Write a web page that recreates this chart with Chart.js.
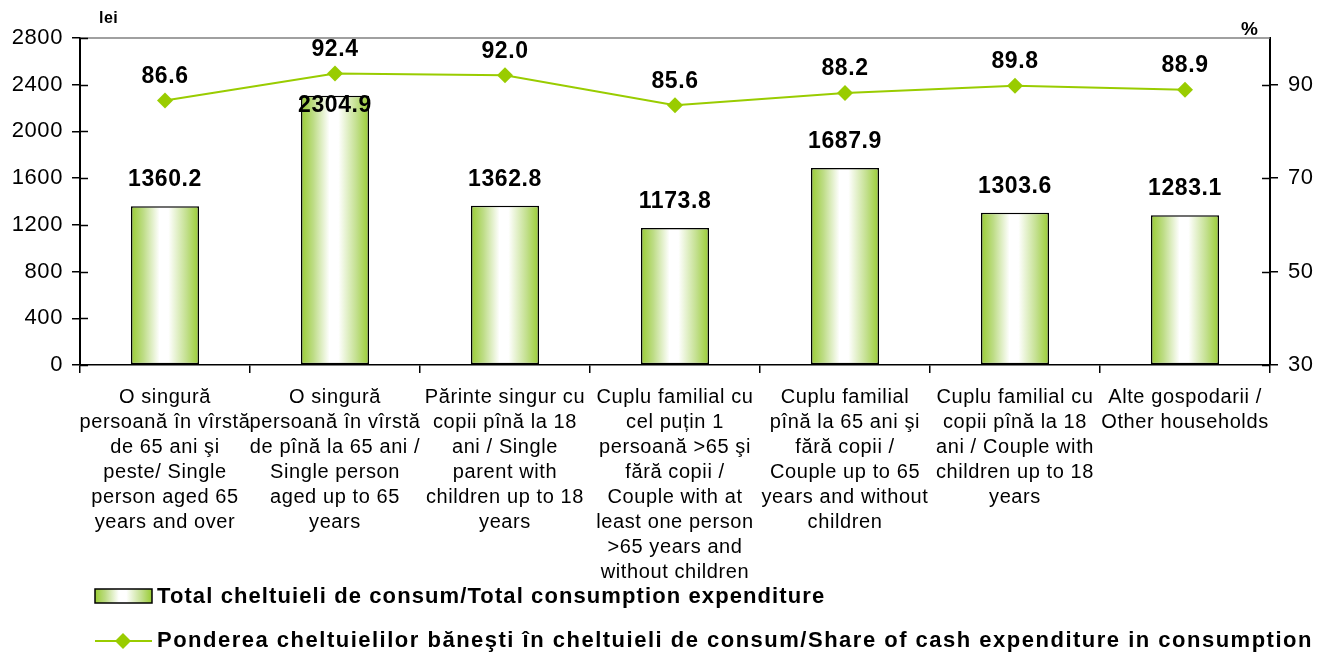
<!DOCTYPE html>
<html>
<head>
<meta charset="utf-8">
<script src="https://cdn.jsdelivr.net/npm/chart.js@4/dist/chart.umd.min.js"></script>
<style>
  html, body { margin:0; padding:0; background:#fff; }
  #wrap { width:1325px; height:655px; }
</style>
</head>
<body>
<div id="wrap"><canvas id="chart" width="1325" height="655"></canvas></div>
<script>
const categories = [
  ['O singură', 'persoană în vîrstă', 'de 65 ani şi', 'peste/ Single', 'person aged 65', 'years and over'],
  ['O singură', 'persoană în vîrstă', 'de pînă la 65 ani /', 'Single person', 'aged up to 65', 'years'],
  ['Părinte singur cu', 'copii pînă la 18', 'ani / Single', 'parent with', 'children up to 18', 'years'],
  ['Cuplu familial cu', 'cel puțin 1', 'persoană >65 şi', 'fără copii /', 'Couple with at', 'least one person', '>65 years and', 'without children'],
  ['Cuplu familial', 'pînă la 65 ani şi', 'fără copii /', 'Couple up to 65', 'years and without', 'children'],
  ['Cuplu familial cu', 'copii pînă la 18', 'ani / Couple with', 'children up to 18', 'years'],
  ['Alte gospodarii /', 'Other households']
];
const totalExpenditure = [1360.2, 2304.9, 1362.8, 1173.8, 1687.9, 1303.6, 1283.1];
const cashShare = [86.6, 92.4, 92.0, 85.6, 88.2, 89.8, 88.9];
const leftTicks = [0, 400, 800, 1200, 1600, 2000, 2400, 2800];
const rightTicks = [30, 50, 70, 90];
const barName = 'Total cheltuieli de consum/Total consumption expenditure';
const lineName = 'Ponderea cheltuielilor băneşti în cheltuieli de consum/Share of cash expenditure in consumption';

const GREEN = '#99cc33';
const LINE_GREEN = '#99cc00';
const FONT = '"Liberation Sans", Arial, sans-serif';
Chart.defaults.font.family = FONT;

function barGradient(ctx, x0, x1) {
  const g = ctx.createLinearGradient(x0, 0, x1, 0);
  g.addColorStop(0, GREEN);
  g.addColorStop(0.18, '#bddc85');
  g.addColorStop(0.42, '#ffffff');
  g.addColorStop(0.55, '#ffffff');
  g.addColorStop(0.82, '#c2df8c');
  g.addColorStop(1, GREEN);
  return g;
}

function diamond(ctx, x, y, r) {
  ctx.beginPath();
  ctx.moveTo(x - r, y);
  ctx.lineTo(x, y - r);
  ctx.lineTo(x + r, y);
  ctx.lineTo(x, y + r);
  ctx.closePath();
  ctx.fill();
}

const decor = {
  id: 'decor',
  beforeDraw(chart) {
    // the original text is set a little wider than plain Arial
    chart.ctx.letterSpacing = '0.6px';
  },
  afterDatasetsDraw(chart, args, opts) {
    const ctx = chart.ctx;
    ctx.save();
    ctx.letterSpacing = '0.6px';
    ctx.fillStyle = '#000';
    ctx.font = 'bold 23px ' + FONT;
    ctx.textAlign = 'center';
    ctx.textBaseline = 'middle';
    const barMeta = chart.getDatasetMeta(1);
    barMeta.data.forEach((el, i) => {
      const shift = (opts.barShift && opts.barShift[i]) || 0;
      ctx.fillText(totalExpenditure[i].toFixed(1), el.x, el.y - 26 + shift);
    });
    const lineMeta = chart.getDatasetMeta(0);
    lineMeta.data.forEach((el, i) => {
      ctx.fillText(cashShare[i].toFixed(1), el.x, el.y - 24);
    });
    ctx.restore();
  },
  afterDraw(chart) {
    const ctx = chart.ctx;
    const a = chart.chartArea;
    ctx.save();
    // top border
    ctx.strokeStyle = '#808080';
    ctx.lineWidth = 1.5;
    ctx.beginPath();
    ctx.moveTo(a.left, a.top);
    ctx.lineTo(a.right, a.top);
    ctx.stroke();
    // inner half of the y tick marks
    ctx.strokeStyle = '#000';
    ctx.lineWidth = 1.5;
    const y = chart.scales.y, y1 = chart.scales.y1;
    leftTicks.forEach(v => {
      const p = Math.round(y.getPixelForValue(v)) + 0.5;
      ctx.beginPath(); ctx.moveTo(a.left, p); ctx.lineTo(a.left + 8, p); ctx.stroke();
    });
    rightTicks.forEach(v => {
      const p = Math.round(y1.getPixelForValue(v)) + 0.5;
      ctx.beginPath(); ctx.moveTo(a.right - 8, p); ctx.lineTo(a.right, p); ctx.stroke();
    });
    // unit titles
    ctx.fillStyle = '#000';
    ctx.textBaseline = 'middle';
    ctx.textAlign = 'left';
    ctx.letterSpacing = '0.5px';
    ctx.font = 'bold 16px ' + FONT;
    ctx.fillText('lei', 99, 19);
    ctx.font = 'bold 19px ' + FONT;
    ctx.fillText('%', 1241, 30);
    // legend
    const lx = 95;
    ctx.fillStyle = barGradient(ctx, lx, lx + 57);
    ctx.fillRect(lx, 589, 57, 14);
    ctx.strokeStyle = '#000';
    ctx.lineWidth = 1.5;
    ctx.strokeRect(lx, 589, 57, 14);
    ctx.fillStyle = '#000';
    ctx.font = 'bold 22px ' + FONT;
    ctx.letterSpacing = '1.1px';
    ctx.fillText(barName, 157, 597);
    ctx.strokeStyle = LINE_GREEN;
    ctx.lineWidth = 2;
    ctx.beginPath(); ctx.moveTo(lx, 641); ctx.lineTo(lx + 57, 641); ctx.stroke();
    ctx.fillStyle = LINE_GREEN;
    diamond(ctx, lx + 28, 641, 8);
    ctx.fillStyle = '#000';
    ctx.letterSpacing = '1.5px';
    ctx.fillText(lineName, 157, 641);
    ctx.restore();
  }
};

const ctx = document.getElementById('chart').getContext('2d');
new Chart(ctx, {
  data: {
    labels: categories,
    datasets: [
      {
        type: 'line',
        label: lineName,
        data: cashShare,
        yAxisID: 'y1',
        borderColor: LINE_GREEN,
        borderWidth: 2,
        backgroundColor: LINE_GREEN,
        pointStyle: 'rectRot',
        pointRadius: 8,
        pointHoverRadius: 8,
        pointBorderWidth: 0,
        tension: 0,
        order: 1
      },
      {
        type: 'bar',
        label: barName,
        data: totalExpenditure,
        yAxisID: 'y',
        borderColor: '#000',
        borderWidth: 1.5,
        borderSkipped: false,
        categoryPercentage: 0.8,
        barPercentage: 0.5,
        backgroundColor: (c) => {
          const chart = c.chart;
          const x = chart.scales.x;
          if (!x || !chart.chartArea || c.dataIndex === undefined) return GREEN;
          const cx = x.getPixelForValue(c.dataIndex);
          const w = (chart.chartArea.right - chart.chartArea.left) / categories.length * 0.4;
          return barGradient(chart.ctx, cx - w / 2, cx + w / 2);
        },
        order: 2
      }
    ]
  },
  options: {
    responsive: false,
    animation: false,
    events: [],
    layout: { padding: { top: 38, left: 0, right: 0, bottom: 0 } },
    plugins: {
      legend: { display: false },
      tooltip: { enabled: false },
      decor: { barShift: { 1: 36 } }
    },
    scales: {
      x: {
        offset: true,
        grid: { offset: true, drawOnChartArea: false, tickLength: 8, color: '#000', lineWidth: 1.5 },
        border: { display: true, color: '#000', width: 1.5 },
        ticks: {
          color: '#000',
          font: { family: FONT, size: 20, lineHeight: 1.25 },
          maxRotation: 0, minRotation: 0, autoSkip: false, padding: 12
        },
        afterFit(s) { s.height = 290; }
      },
      y: {
        position: 'left',
        min: 0, max: 2800,
        afterBuildTicks(s) { s.ticks = leftTicks.map(v => ({ value: v })); },
        grid: { drawOnChartArea: false, tickLength: 8, color: '#000', lineWidth: 1.5 },
        border: { display: true, color: '#000', width: 2 },
        ticks: { color: '#000', font: { family: FONT, size: 22 }, padding: 9, callback: v => String(v) },
        afterFit(s) { s.width = 80; }
      },
      y1: {
        position: 'right',
        min: 30, max: 100,
        afterBuildTicks(s) { s.ticks = rightTicks.map(v => ({ value: v })); },
        grid: { drawOnChartArea: false, tickLength: 8, color: '#000', lineWidth: 1.5 },
        border: { display: true, color: '#000', width: 2 },
        ticks: { color: '#000', font: { family: FONT, size: 22 }, padding: 10, callback: v => String(v) },
        afterFit(s) { s.width = 55; }
      }
    }
  },
  plugins: [decor]
});
</script>
</body>
</html>
